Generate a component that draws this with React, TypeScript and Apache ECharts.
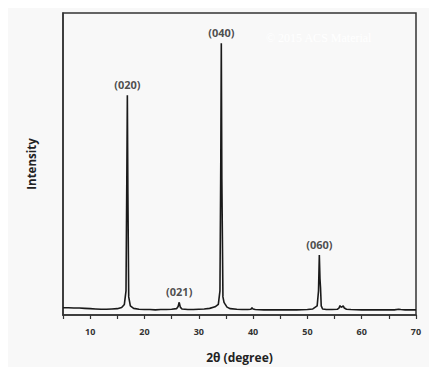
import React, { useEffect, useRef } from "react";
import * as echarts from "echarts";

const twoTheta = [5, 6, 7, 8, 9, 10, 11, 12, 13, 14, 15, 15.8, 16.3, 16.6, 16.75, 16.85, 16.95, 17.1, 17.4, 18, 19, 20, 21, 22, 23, 24, 25, 25.9, 26.2, 26.4, 26.6, 26.9, 28, 29, 30, 31, 32, 33, 33.6, 33.9, 34.05, 34.15, 34.25, 34.45, 34.65, 34.85, 35.2, 35.8, 37, 38, 39, 39.6, 39.8, 40.0, 40.4, 42, 44, 46, 48, 50, 51, 51.8, 52.05, 52.2, 52.32, 52.42, 52.55, 52.8, 53.5, 54.5, 55.5, 55.85, 56.0, 56.2, 56.4, 56.6, 56.8, 57.2, 58, 60, 62, 64, 66, 66.8, 67.2, 68, 70];
const intensity = [2.4, 2.4, 2.3, 2.3, 2.2, 2.1, 2.0, 1.9, 1.9, 2.0, 2.1, 2.5, 3.5, 8, 45, 72.8, 40, 6, 3, 2.2, 1.9, 1.8, 1.8, 1.7, 1.8, 1.8, 1.9, 2.1, 2.8, 4.2, 2.6, 2.0, 1.8, 1.8, 1.9, 2.0, 2.2, 2.7, 3.5, 8, 50, 90, 45, 6, 4.2, 3.6, 2.6, 2.1, 1.9, 1.8, 1.8, 1.9, 2.4, 2.0, 1.8, 1.7, 1.7, 1.7, 1.7, 1.8, 2.0, 3.0, 8, 19.9, 12, 9, 3, 2.0, 1.8, 1.8, 1.9, 2.4, 3.1, 2.6, 2.7, 3.0, 2.3, 1.9, 1.8, 1.7, 1.7, 1.7, 1.7, 1.9, 1.8, 1.7, 1.7];

const peakLabels = ["(020)", "(021)", "(040)", "(060)"];
const peakPositions = [16.85, 26.4, 34.15, 52.2];
const peakHeights = [72.8, 4.2, 90, 19.9];

const xTickLabels = ["10", "20", "30", "40", "50", "60", "70"];

const FONT = "'Open Sans', Lato, sans-serif";

export default function App() {
  const ref = useRef<HTMLDivElement>(null);
  useEffect(() => {
    if (!ref.current) return;
    const chart = echarts.init(ref.current, null, { renderer: "svg" });
    chart.setOption({
      animation: false,
      backgroundColor: "#f8f8f8",
      grid: {
        left: 63,
        right: 21,
        top: 13,
        bottom: 60,
        show: true,
        borderColor: "#333",
        borderWidth: 1.5,
        backgroundColor: "transparent",
      },
      xAxis: {
        type: "value",
        min: 5,
        max: 70,
        interval: 5,
        name: "2θ (degree)",
        nameLocation: "middle",
        nameGap: 36,
        nameTextStyle: { fontFamily: FONT, fontWeight: "bold", fontSize: 12, color: "#222" },
        axisLine: { show: true, lineStyle: { color: "#333", width: 1.5 } },
        axisTick: { show: true, inside: false, length: 4, lineStyle: { color: "#333", width: 1.2 } },
        axisLabel: {
          fontFamily: FONT,
          fontWeight: "bold",
          fontSize: 9,
          color: "#333",
          margin: 12,
          formatter: (v: number) => (xTickLabels.includes(String(v)) ? String(v) : ""),
        },
        splitLine: { show: false },
      },
      yAxis: {
        type: "value",
        min: 0,
        max: 100,
        name: "Intensity",
        nameLocation: "middle",
        nameGap: 26,
        nameTextStyle: { fontFamily: FONT, fontWeight: "bold", fontSize: 11.5, color: "#222" },
        axisLine: { show: true, lineStyle: { color: "#333", width: 1.5 } },
        axisTick: { show: false },
        axisLabel: { show: false },
        splitLine: { show: false },
      },
      graphic: [
        {
          type: "text",
          left: 266,
          top: 32,
          style: {
            text: "© 2015 ACS Material",
            fill: "#ffffff",
            fontFamily: "'Liberation Serif', serif",
            fontSize: 12,
          },
        },
      ],
      series: [
        {
          type: "line",
          data: twoTheta.map((x, i) => [x, intensity[i]]),
          showSymbol: false,
          symbol: "none",
          lineStyle: { color: "#1a1a1a", width: 1.6 },
          z: 3,
        },
        {
          type: "scatter",
          symbolSize: 0,
          data: peakPositions.map((x, i) => ({ value: [x, peakHeights[i]], name: peakLabels[i] })),
          label: {
            show: true,
            position: "top",
            distance: 5,
            formatter: (p: any) => p.name,
            fontFamily: FONT,
            fontWeight: "bold",
            fontSize: 11,
            color: "#222",
          },
          z: 4,
        },
      ],
    });
    return () => chart.dispose();
  }, []);
  return (
    <div style={{ margin: -8, background: "#f8f8f8" }}>
      <div ref={ref} style={{ width: 437, height: 375 }} />
    </div>
  );
}
